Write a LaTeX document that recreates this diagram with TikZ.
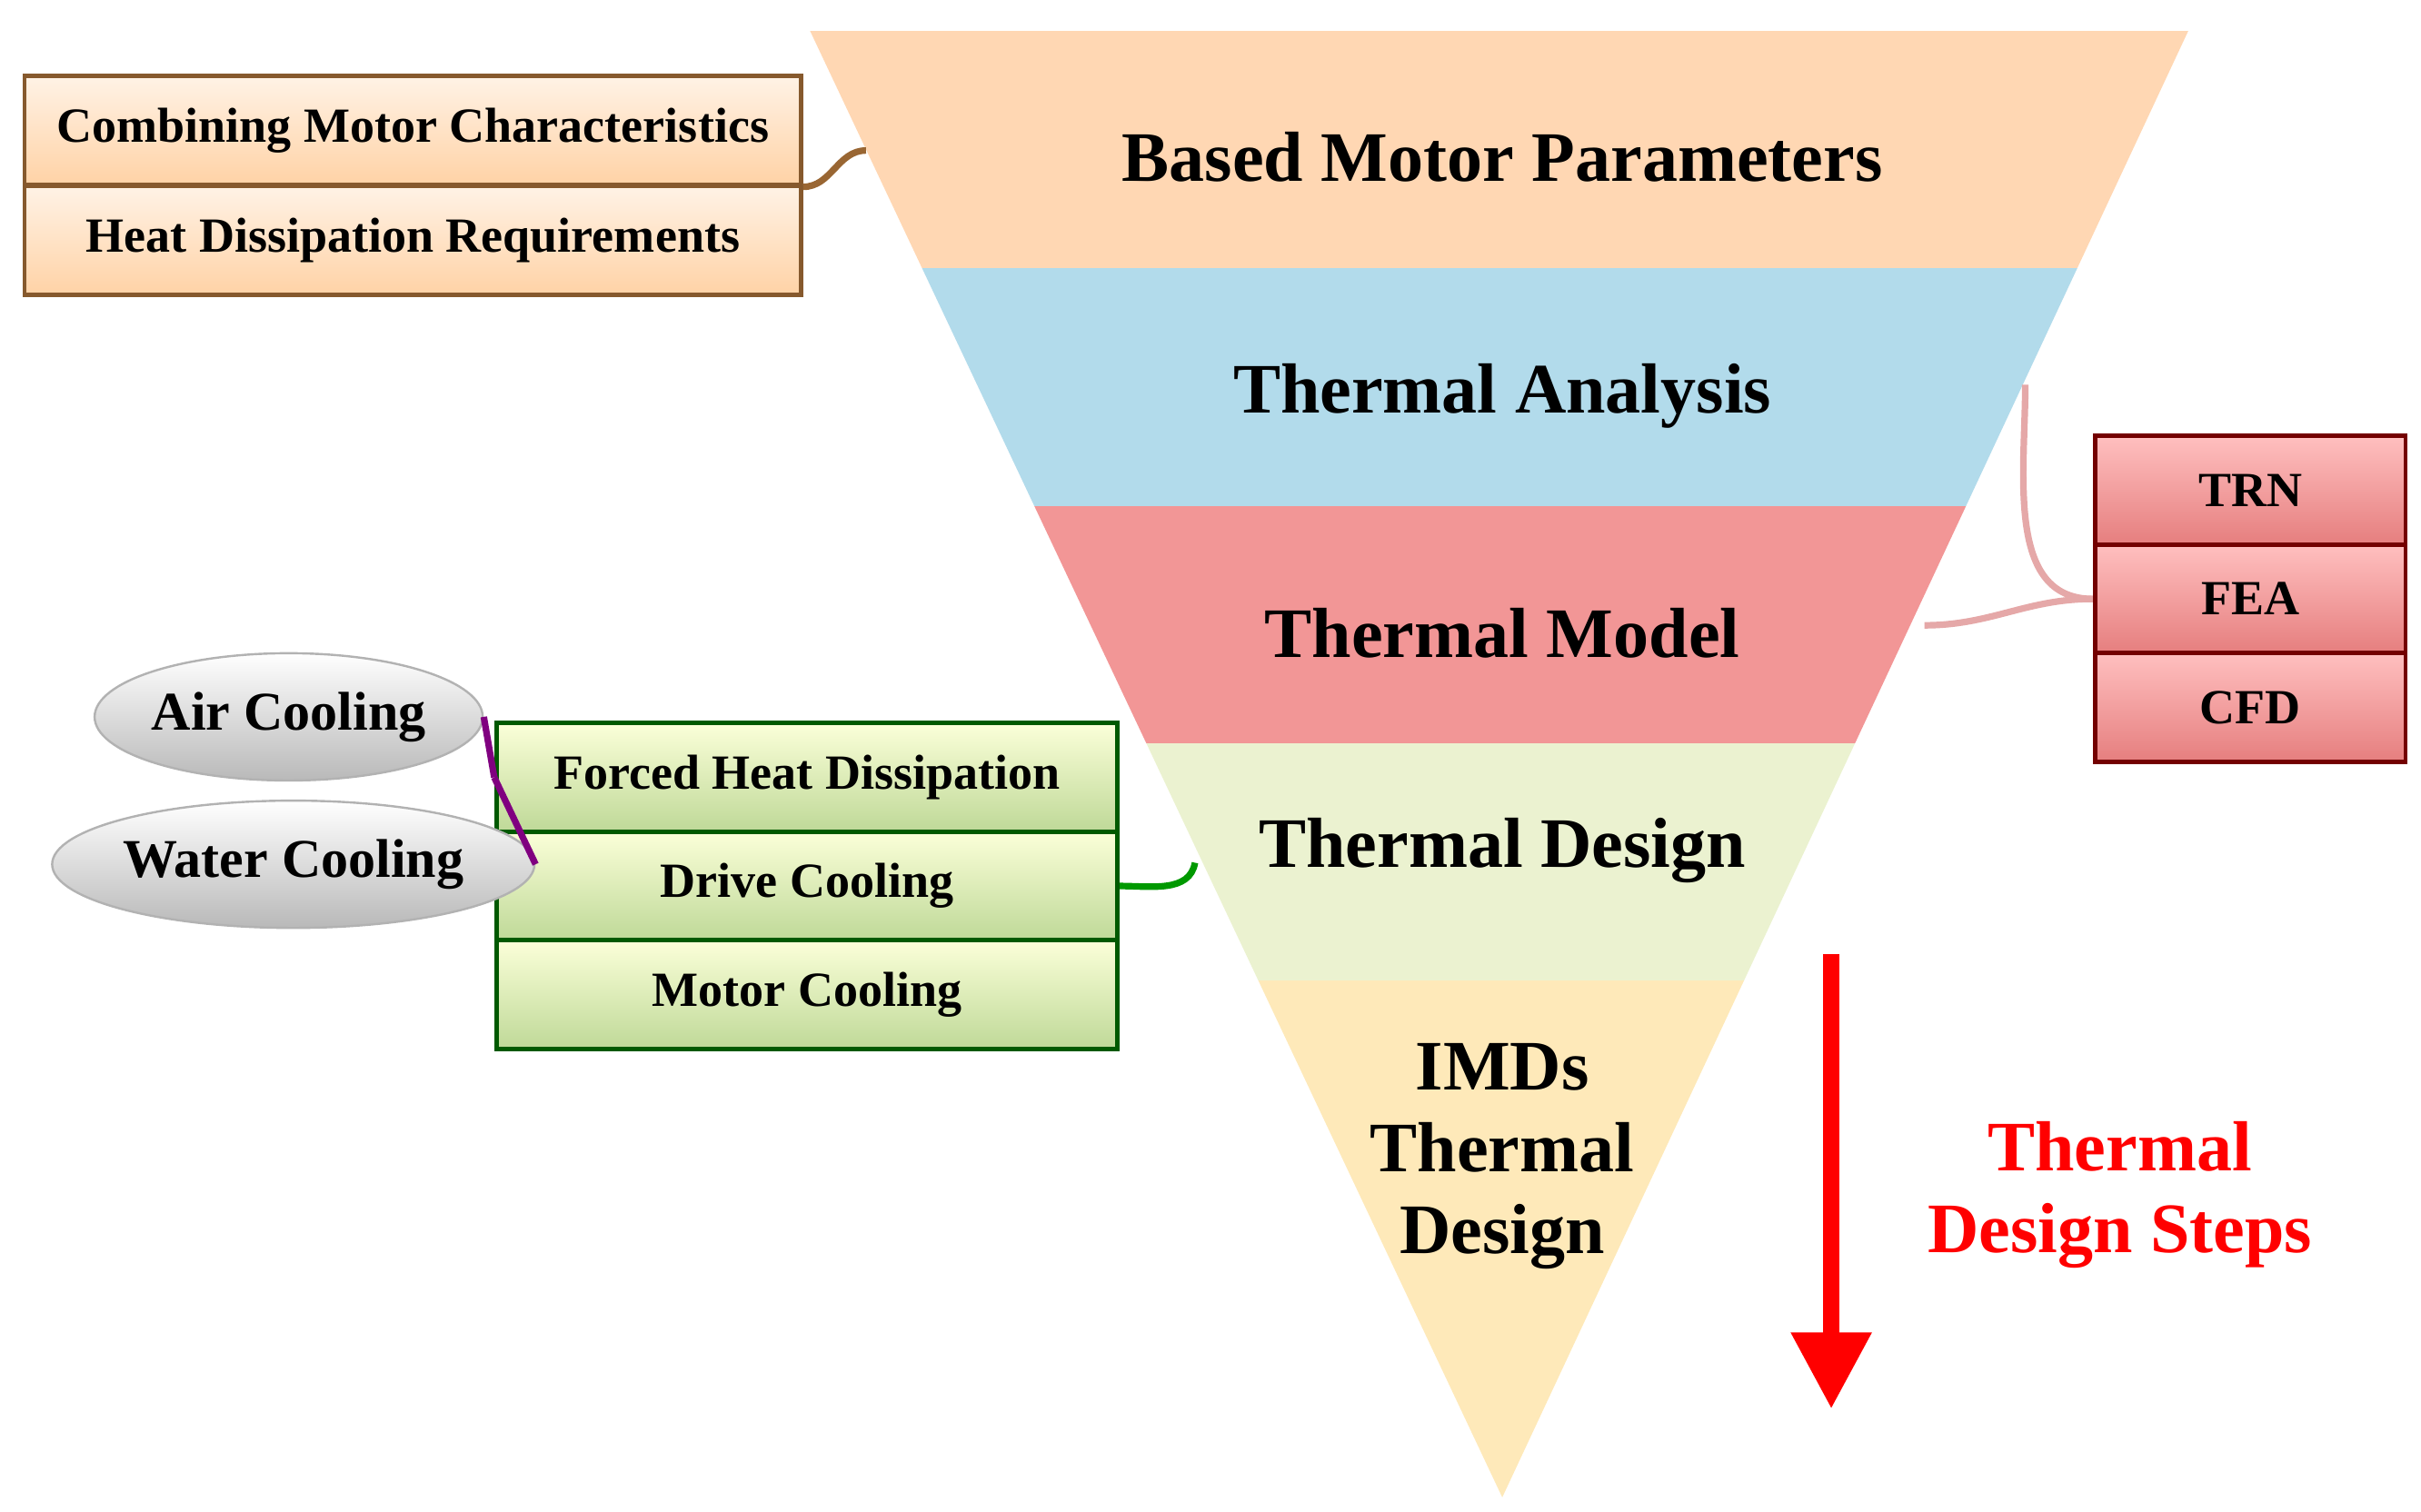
\documentclass[tikz,border=0pt]{standalone}
\usepackage{fontspec}
\setmainfont{Liberation Serif}
\usetikzlibrary{shapes.geometric,arrows.meta}
\begin{document}
\begin{tikzpicture}[x=0.01cm, y=-0.01cm,
  steptext/.style = {font=\bfseries\fontsize{13}{15}\selectfont, align=center},
  boxtext/.style = {font=\bfseries\fontsize{9}{11}\selectfont, inner sep=0pt},
  obox/.style = {draw=brown!70!black, thick, top color=orange!10, bottom color=orange!35!white, minimum width=5cm, minimum height=0.7cm, boxtext},
  rbox/.style = {draw=red!45!black, thick, top color=red!25, bottom color=red!45!white!90!black, minimum width=2cm, minimum height=0.7cm, boxtext},
  gbox/.style = {draw=green!35!black, thick, top color=green!10!yellow!15, bottom color=green!40!yellow!30!white!85!black, minimum width=4cm, minimum height=0.7cm, boxtext},
  cool/.style = {ellipse, draw=gray!60, top color=white, bottom color=gray!55, minimum width=2.32cm, minimum height=0.82cm, inner sep=0pt, font=\bfseries\fontsize{10}{12}\selectfont},
  link/.style = {line width=1.2pt}]
\useasboundingbox (0,0) rectangle (1560,974);
% inverted pyramid
\begin{scope}
\clip (522,20) -- (1410,20) -- (968,965) -- cycle;
\fill[orange!30!white!95!pink] (500,20) rectangle (1420,173);
\fill[cyan!30!white!85!gray] (500,173) rectangle (1420,326);
\fill[red!40!white!90!gray] (500,326) rectangle (1420,479);
\fill[green!20!yellow!15!white!90!gray] (500,479) rectangle (1420,632);
\fill[yellow!40!orange!25!white] (500,632) rectangle (1420,970);
\end{scope}
\node[steptext] (s1) at (968,101) {Based Motor Parameters};
\node[steptext] (s2) at (968,255) {Thermal Analysis};
\node[steptext] (s3) at (968,408) {Thermal Model};
\node[steptext] (s4) at (968,548) {Thermal Design};
\node[steptext] (s5) at (968,745) {IMDs\\Thermal\\Design};
\coordinate (p1) at (558,97);
\coordinate (p2) at (1305,248);
\coordinate (p3) at (1240,403);
\coordinate (p4) at (770,556);
% side boxes
\node[obox] (comb) at (266,84) {Combining Motor Characteristics};
\node[obox] (heat) at (266,155) {Heat Dissipation Requirements};
\node[rbox] (trn) at (1450,316) {TRN};
\node[rbox] (fea) at (1450,386) {FEA};
\node[rbox] (cfd) at (1450,456) {CFD};
\node[gbox] (forced) at (520,501) {Forced Heat Dissipation};
\node[gbox] (drive) at (520,571) {Drive Cooling};
\node[gbox] (motor) at (520,641) {Motor Cooling};
\node[cool] (air) at (186,462) {Air Cooling};
\node[cool] (water) at (189,557) {Water Cooling};
% connectors
\draw[link, brown!80!black] (comb.south east) to[out=0, in=180] (p1);
\draw[link, red!30!white!80!gray] (p2) to[out=-90, in=180] (fea.west);
\draw[link, red!30!white!80!gray] (p3) to[out=0, in=180] (fea.west);
\draw[link, green!60!black] (drive.east) to[out=0, in=-100] (p4);
\draw[link, violet] (air.east) -- (forced.west);
\draw[link, violet] (water.east) -- (forced.west);
% direction
\coordinate (a1) at (1180,615);
\coordinate (a2) at (1180,908);
\draw[red, line width=3pt, -{Triangle[length=14pt, width=14pt]}] (a1) -- (a2);
\node[steptext, text=red] (steps) at (1366,770) {Thermal\\Design Steps};
\end{tikzpicture}
\end{document}
